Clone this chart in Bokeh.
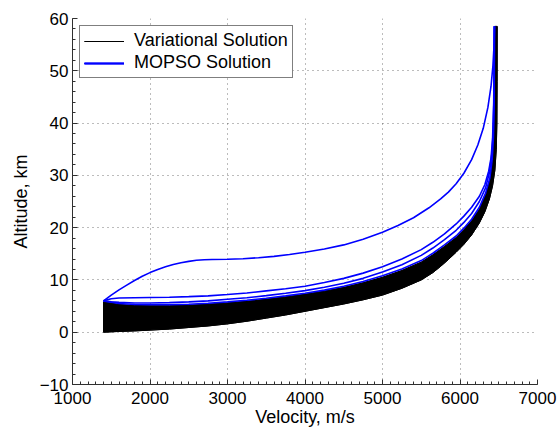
from bokeh.plotting import figure
from bokeh.models import SingleIntervalTicker, Range1d
from bokeh.embed import file_html
from bokeh.resources import INLINE

# ---- Variational solution family: lowest and highest trajectories (band) ----
var_low_v = [1400, 1600, 1800, 2000, 2250, 2500, 2750, 3000, 3250, 3500, 3750, 4000, 4250, 4500, 4750,
             5000, 5250, 5500, 5650, 5750, 5850, 5950, 6050, 6150, 6250, 6320, 6380, 6420, 6450, 6468,
             6476, 6479, 6480]
var_low_h = [0.0, 0.15, 0.25, 0.4, 0.6, 0.9, 1.2, 1.6, 2.1, 2.7, 3.3, 4.0, 4.7, 5.4, 6.2,
             7.1, 8.4, 10.0, 11.4, 12.6, 13.9, 15.3, 16.8, 18.6, 20.9, 23.0, 25.5, 28.0, 31.0, 35.0,
             40.0, 48.0, 58.5]

var_high_v = [1400, 1600, 1800, 2000, 2250, 2500, 2750, 3000, 3250, 3500, 3750, 4000, 4250, 4500, 4750,
              5000, 5250, 5500, 5650, 5800, 5950, 6050, 6150, 6250, 6330, 6385, 6420, 6438, 6446, 6448]
var_high_h = [5.8, 5.3, 5.1, 5.05, 5.05, 5.15, 5.35, 5.6, 5.9, 6.3, 6.75, 7.25, 7.85, 8.55, 9.45,
              10.5, 11.8, 13.4, 14.8, 16.4, 18.1, 19.6, 21.3, 23.5, 26.2, 29.0, 32.5, 37.0, 45.0, 58.5]

# ---- MOPSO solutions ----
mopso_1_v = [1400, 1500, 1600, 1700, 1800, 1900, 2000, 2100, 2200, 2300, 2400, 2500, 2600, 2700, 2800,
             3000, 3200, 3400, 3600, 3800, 4000, 4250, 4500, 4750, 5000, 5200, 5400, 5600, 5750, 5850,
             5950, 6050, 6150, 6230, 6300, 6360, 6400, 6425, 6440, 6445]
mopso_1_h = [6.0, 7.1, 8.1, 9.0, 9.9, 10.7, 11.4, 12.0, 12.5, 12.95, 13.3, 13.55, 13.75, 13.85, 13.9,
             13.95, 14.05, 14.25, 14.5, 14.85, 15.3, 15.9, 16.7, 17.8, 19.1, 20.4, 21.9, 23.8, 25.5, 26.8,
             28.4, 30.4, 33.0, 35.8, 39.0, 43.0, 47.0, 51.0, 55.0, 58.5]

mopso_2_v = [1400, 1500, 1600, 1800, 2000, 2250, 2500, 2750, 3000, 3250, 3500, 3750, 4000, 4250, 4500,
             4750, 5000, 5250, 5500, 5650, 5800, 5950, 6050, 6150, 6250, 6320, 6370, 6400, 6420, 6435,
             6443]
mopso_2_h = [6.0, 6.4, 6.55, 6.6, 6.65, 6.7, 6.8, 6.95, 7.2, 7.5, 7.9, 8.3, 8.8, 9.5, 10.3,
             11.3, 12.5, 14.0, 15.8, 17.2, 18.8, 20.7, 22.2, 23.9, 26.0, 28.2, 30.8, 33.3, 36.8, 44.0,
             58.5]

mopso_3_v = [1400, 1500, 1600, 1800, 2000, 2250, 2500, 2750, 3000, 3250, 3500, 3750, 4000, 4250, 4500,
             4750, 5000, 5250, 5500, 5650, 5800, 5950, 6050, 6150, 6250, 6330, 6380, 6410, 6428, 6440,
             6444]
mopso_3_h = [6.0, 5.8, 5.7, 5.6, 5.6, 5.65, 5.8, 6.0, 6.3, 6.6, 7.0, 7.45, 7.95, 8.6, 9.35,
             10.3, 11.5, 12.9, 14.7, 16.1, 17.7, 19.5, 21.0, 22.7, 25.0, 27.6, 30.6, 34.0, 38.5, 46.0,
             58.5]

mopso_4_v = [1400, 1600, 1800, 2000, 2250, 2500, 2750, 3000, 3250, 3500, 3750, 4000, 4250, 4500, 4750,
             5000, 5250, 5500, 5650, 5800, 5950, 6050, 6150, 6250, 6330, 6385, 6415, 6432, 6442, 6445]
mopso_4_h = [6.0, 5.5, 5.3, 5.25, 5.25, 5.35, 5.55, 5.8, 6.1, 6.5, 6.95, 7.45, 8.05, 8.8, 9.7,
             10.8, 12.1, 13.7, 15.1, 16.7, 18.4, 19.9, 21.6, 23.9, 26.6, 29.5, 33.0, 37.5, 45.0, 58.5]

x_ticks_interval = 1000
y_ticks_interval = 10
legend_labels = ["Variational Solution", "MOPSO Solution"]
x_label = "Velocity, m/s"
y_label = "Altitude, km"

FONT = "Liberation Sans"

p = figure(width=560, height=429,
           x_range=Range1d(1000, 7000), y_range=Range1d(-10, 60),
           output_backend="svg", toolbar_location=None,
           min_border_left=72, min_border_right=23,
           min_border_top=18, min_border_bottom=45)
p.outline_line_color = None
p.background_fill_color = "white"
p.border_fill_color = "white"

# black band of variational trajectories
band_x = var_low_v + var_high_v[::-1]
band_y = var_low_h + var_high_h[::-1]
p.patch(band_x, band_y, fill_color="black", line_color="black", line_width=1)
p.line(var_low_v, var_low_h, line_color="black", line_width=1, legend_label=legend_labels[0])
p.line(var_high_v, var_high_h, line_color="black", line_width=1, legend_label=legend_labels[0])

for vv, hh in [(mopso_4_v, mopso_4_h), (mopso_3_v, mopso_3_h),
               (mopso_2_v, mopso_2_h), (mopso_1_v, mopso_1_h)]:
    p.line(vv, hh, line_color="#0000ff", line_width=1.6, legend_label=legend_labels[1])

xt = SingleIntervalTicker(interval=x_ticks_interval, num_minor_ticks=10)
yt = SingleIntervalTicker(interval=y_ticks_interval, num_minor_ticks=5)
p.xaxis.ticker = xt
p.yaxis.ticker = yt
p.xgrid.ticker = xt
p.ygrid.ticker = yt

for g in (p.xgrid, p.ygrid):
    g.grid_line_color = "#404040"
    g.grid_line_alpha = 0.7
    g.grid_line_dash = "1 4"
    g.grid_line_width = 1

for ax in (p.xaxis, p.yaxis):
    ax.axis_line_color = "#303030"
    ax.major_tick_line_color = "#303030"
    ax.minor_tick_line_color = "#303030"
    ax.major_tick_in = 5
    ax.major_tick_out = 0
    ax.minor_tick_in = 3
    ax.minor_tick_out = 0
    ax.major_label_text_font = FONT
    ax.major_label_text_font_size = "17px"
    ax.major_label_text_color = "black"
    ax.axis_label_text_font = FONT
    ax.axis_label_text_font_size = "18px"
    ax.axis_label_text_font_style = "normal"
    ax.axis_label_text_color = "black"

p.xaxis.axis_label = x_label
p.yaxis.axis_label = y_label
p.xaxis.major_label_standoff = 7
p.xaxis.axis_label_standoff = 0
p.yaxis.major_label_standoff = 4
p.yaxis.axis_label_standoff = 6
p.yaxis.major_label_overrides = {-10: "\u221210"}

lg = p.legend[0]
lg.location = "top_left"
lg.margin = 7
lg.padding = 4
lg.spacing = 1
lg.glyph_width = 40
lg.glyph_height = 20
lg.label_height = 20
lg.label_standoff = 10
lg.label_text_font = FONT
lg.label_text_font_size = "18px"
lg.label_text_color = "black"
lg.border_line_color = "black"
lg.border_line_width = 1
lg.background_fill_color = "white"
lg.background_fill_alpha = 1.0

open("out.html", "w").write(file_html(p, INLINE))
